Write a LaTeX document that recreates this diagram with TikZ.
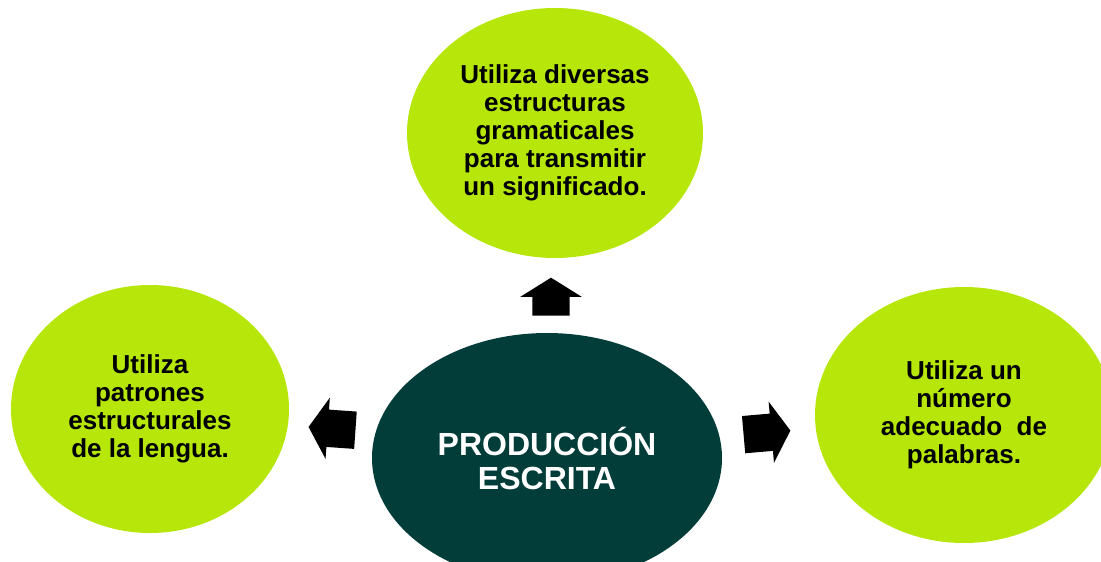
\documentclass[tikz,border=0pt]{standalone}
\usepackage{fontspec}
\setmainfont{Liberation Sans}
\usetikzlibrary{shapes.geometric,shapes.arrows,calc}
\definecolor{lima}{RGB}{182,230,10}
\definecolor{petroleo}{RGB}{3,61,58}

\begin{document}
\begin{tikzpicture}[x=1pt,y=-1pt,
    idea/.style={ellipse, fill=lima, inner sep=0pt, align=center,
        font=\bfseries\fontsize{26}{28}\selectfont},
    flecha/.style={single arrow, fill=black, inner xsep=0pt, inner ysep=18.5pt,
        minimum height=38pt, single arrow head extend=12pt, single arrow tip angle=116}]
    \clip (0,0) rectangle (1101,562);
    \node[ellipse, fill=petroleo, minimum width=350pt, minimum height=250pt, inner sep=0pt,
        text=white, align=center, font=\bfseries\fontsize{32}{34}\selectfont] at (547,458) (centro) {PRODUCCIÓN\\ESCRITA};
    \node[idea, minimum width=296pt, minimum height=250pt] at (555,133) (arriba)
        {Utiliza diversas\\estructuras\\gramaticales\\para transmitir\\un significado.};
    \node[idea, minimum width=278pt, minimum height=248pt] at (150,409) (izq)
        {Utiliza\\patrones\\estructurales\\de la lengua.};
    \node[idea, minimum width=298pt, minimum height=256pt] at (964,415) (der)
        {Utiliza un\\número\\adecuado\ \ de\\palabras.};
    % flechas
    \node[flecha, rotate=90, xshift=-7pt] at ($(centro.north)!0.5!(arriba.south)$) (f1) {};
    \node[flecha, minimum height=47pt, rotate=176, xshift=-7pt, yshift=-5pt] at ($(centro.west)!0.5!(izq.east)$) (f2) {};
    \node[flecha, minimum height=47pt, rotate=5, xshift=-7pt, yshift=4pt] at ($(centro.east)!0.5!(der.west)$) (f3) {};
\end{tikzpicture}
\end{document}
